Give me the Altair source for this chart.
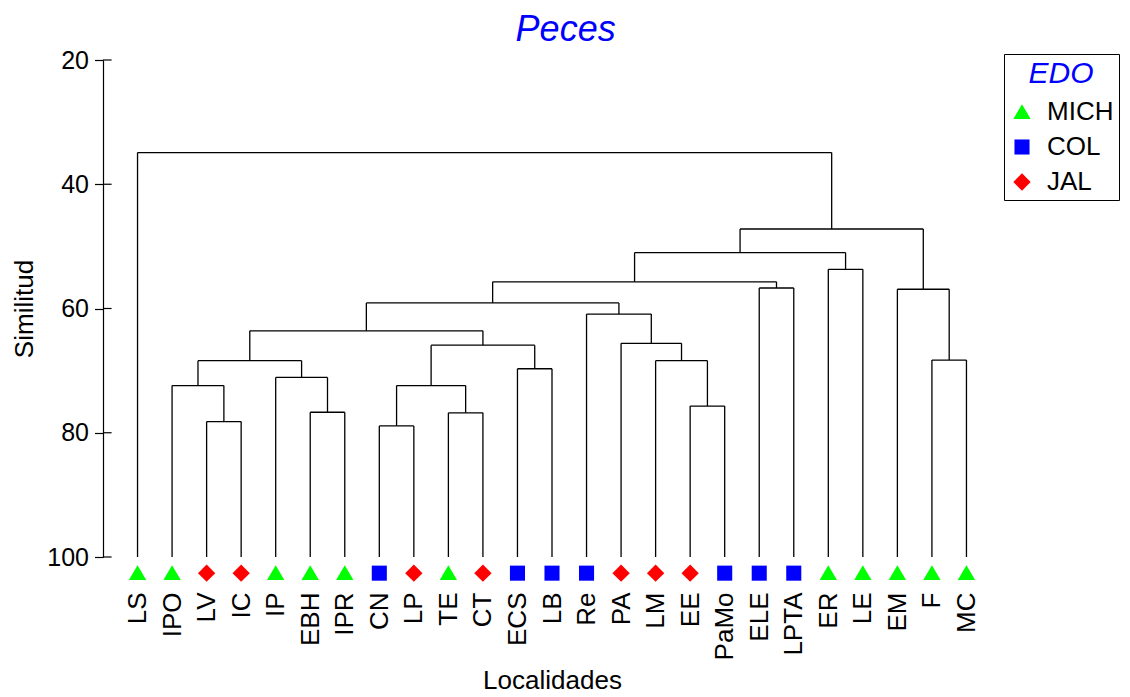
import altair as alt
import pandas as pd

# ---- data ----
leaves = ["LS", "IPO", "LV", "IC", "IP", "EBH", "IPR", "CN", "LP", "TE", "CT",
          "ECS", "LB", "Re", "PA", "LM", "EE", "PaMo", "ELE", "LPTA", "ER", "LE",
          "EM", "F", "MC"]
edo = ["MICH", "MICH", "JAL", "JAL", "MICH", "MICH", "MICH", "COL", "JAL", "MICH", "JAL",
       "COL", "COL", "COL", "JAL", "JAL", "JAL", "COL", "COL", "COL", "MICH", "MICH",
       "MICH", "MICH", "MICH"]

# linkage: cluster name, first child, second child, similarity at which they join
merge_name = ["c1", "c2", "c3", "c4", "c5", "c6", "c7", "c8", "c9", "c10", "c11", "c12",
              "c13", "c14", "c15", "c16", "c17", "c18", "c19", "c20", "c21", "c22", "c23", "c24"]
merge_a = ["LV", "IPO", "EBH", "IP", "c2", "CN", "TE", "c6", "ECS", "c8", "c5", "EE",
           "LM", "PA", "Re", "c11", "ELE", "c16", "ER", "c18", "F", "EM", "c20", "LS"]
merge_b = ["IC", "c1", "IPR", "c3", "c4", "LP", "CT", "c7", "LB", "c9", "c10", "PaMo",
           "c12", "c13", "c14", "c15", "LPTA", "c17", "LE", "c19", "MC", "c21", "c22", "c23"]
merge_h = [78.2, 72.4, 76.7, 71.1, 68.4, 78.9, 76.8, 72.4, 69.7, 65.9, 63.6, 75.7,
           68.4, 65.6, 60.9, 59.1, 56.7, 55.7, 53.7, 51.0, 68.3, 56.9, 47.2, 34.9]

edo_order = ["MICH", "COL", "JAL"]
edo_colors = ["#00FF00", "#0000FF", "#FF0000"]
y_ticks = [20, 40, 60, 80, 100]
leaf_level = 100
marker_level = 102.6

# ---- dendrogram layout (positions come from the linkage) ----
pos = {name: float(i) for i, name in enumerate(leaves)}
height = {name: leaf_level for name in leaves}
segs = []
for name, a, b, h in zip(merge_name, merge_a, merge_b, merge_h):
    xa, xb = pos[a], pos[b]
    segs.append({"x": xa, "x2": xa, "y": height[a], "y2": h})
    segs.append({"x": xb, "x2": xb, "y": height[b], "y2": h})
    segs.append({"x": xa, "x2": xb, "y": h, "y2": h})
    pos[name] = (xa + xb) / 2
    height[name] = h
seg_df = pd.DataFrame(segs)

leaf_df = pd.DataFrame({"idx": list(range(len(leaves))), "Localidad": leaves,
                        "EDO": edo, "lvl": [marker_level] * len(leaves)})
tick_df = pd.DataFrame({"v": y_ticks})

FONT = "Liberation Sans"
label_expr = "[" + ",".join("'%s'" % l for l in leaves) + "][datum.value]"

xscale = alt.Scale(domain=[-1, len(leaves)], nice=False, zero=False)
yscale = alt.Scale(domain=[20, 100], reverse=True, nice=False, zero=False)

xaxis = alt.Axis(values=list(range(len(leaves))), labelExpr=label_expr, labelAngle=270,
                 labelOverlap=False, labelBound=False,
                 domain=False, ticks=False, grid=False, labelFontSize=26, labelFont=FONT,
                 labelColor="black", labelPadding=35, title="Localidades",
                 titleFontSize=26, titleFont=FONT, titleFontWeight="normal",
                 titleColor="black", titlePadding=8)
yaxis = alt.Axis(values=y_ticks, grid=False, domainColor="black", domainWidth=1.2,
                 tickColor="black", tickSize=8.5, tickWidth=1.2, labelFontSize=25,
                 labelOverlap=False,
                 labelFont=FONT, labelColor="black", labelPadding=6, title="Similitud",
                 titleFontSize=26, titleFont=FONT, titleFontWeight="normal",
                 titleColor="black", titlePadding=9)

lines = alt.Chart(seg_df).mark_rule(color="black", strokeWidth=1.3).encode(
    x=alt.X("x:Q", scale=xscale, axis=xaxis),
    x2="x2:Q",
    y=alt.Y("y:Q", scale=yscale, axis=yaxis),
    y2="y2:Q",
)

inner_ticks = alt.Chart(tick_df).mark_rule(color="black", strokeWidth=1.2).encode(
    y=alt.Y("v:Q", scale=yscale, axis=yaxis),
    x=alt.value(0),
    x2=alt.value(8.6),
)

shapes = ["M-1,0.8L0,-0.9L1,0.8Z",
          "M-0.87,-0.87L0.87,-0.87L0.87,0.87L-0.87,0.87Z",
          "M-1,0L0,-1L1,0L0,1Z"]

points = alt.Chart(leaf_df).mark_point(filled=True, opacity=1, size=300).encode(
    x=alt.X("idx:Q", scale=xscale, axis=xaxis),
    y=alt.Y("lvl:Q", scale=yscale, axis=yaxis),
    color=alt.Color("EDO:N", scale=alt.Scale(domain=edo_order, range=edo_colors),
                    legend=alt.Legend(title="EDO")),
    shape=alt.Shape("EDO:N", scale=alt.Scale(domain=edo_order, range=shapes),
                    legend=alt.Legend(title="EDO")),
)

chart = alt.layer(lines, inner_ticks, points).properties(
    width=898, height=497,
    padding={"left": 3, "top": 3, "right": 0, "bottom": 0},
    title=alt.TitleParams("Peces", fontSize=36, fontStyle="italic", fontWeight="normal",
                          color="#0000FF", font=FONT, anchor="middle", frame="bounds",
                          offset=-0.5),
).configure_view(stroke=None).configure_axis(
    labelOverlap=False
).configure_legend(
    orient="none", legendX=901, legendY=-6, strokeColor="black", strokeWidth=1,
    padding=5, symbolOffset=0, titleFontSize=30, titleFontStyle="italic",
    titleFontWeight="normal", titleColor="#0000FF", titleFont=FONT, titleAnchor="middle",
    labelFontSize=26, labelFont=FONT, labelColor="black", symbolSize=300, rowPadding=9,
    labelOffset=12, titlePadding=10, symbolStrokeWidth=0,
)

chart.save("out.html", embed_options={"renderer": "svg", "actions": False})
